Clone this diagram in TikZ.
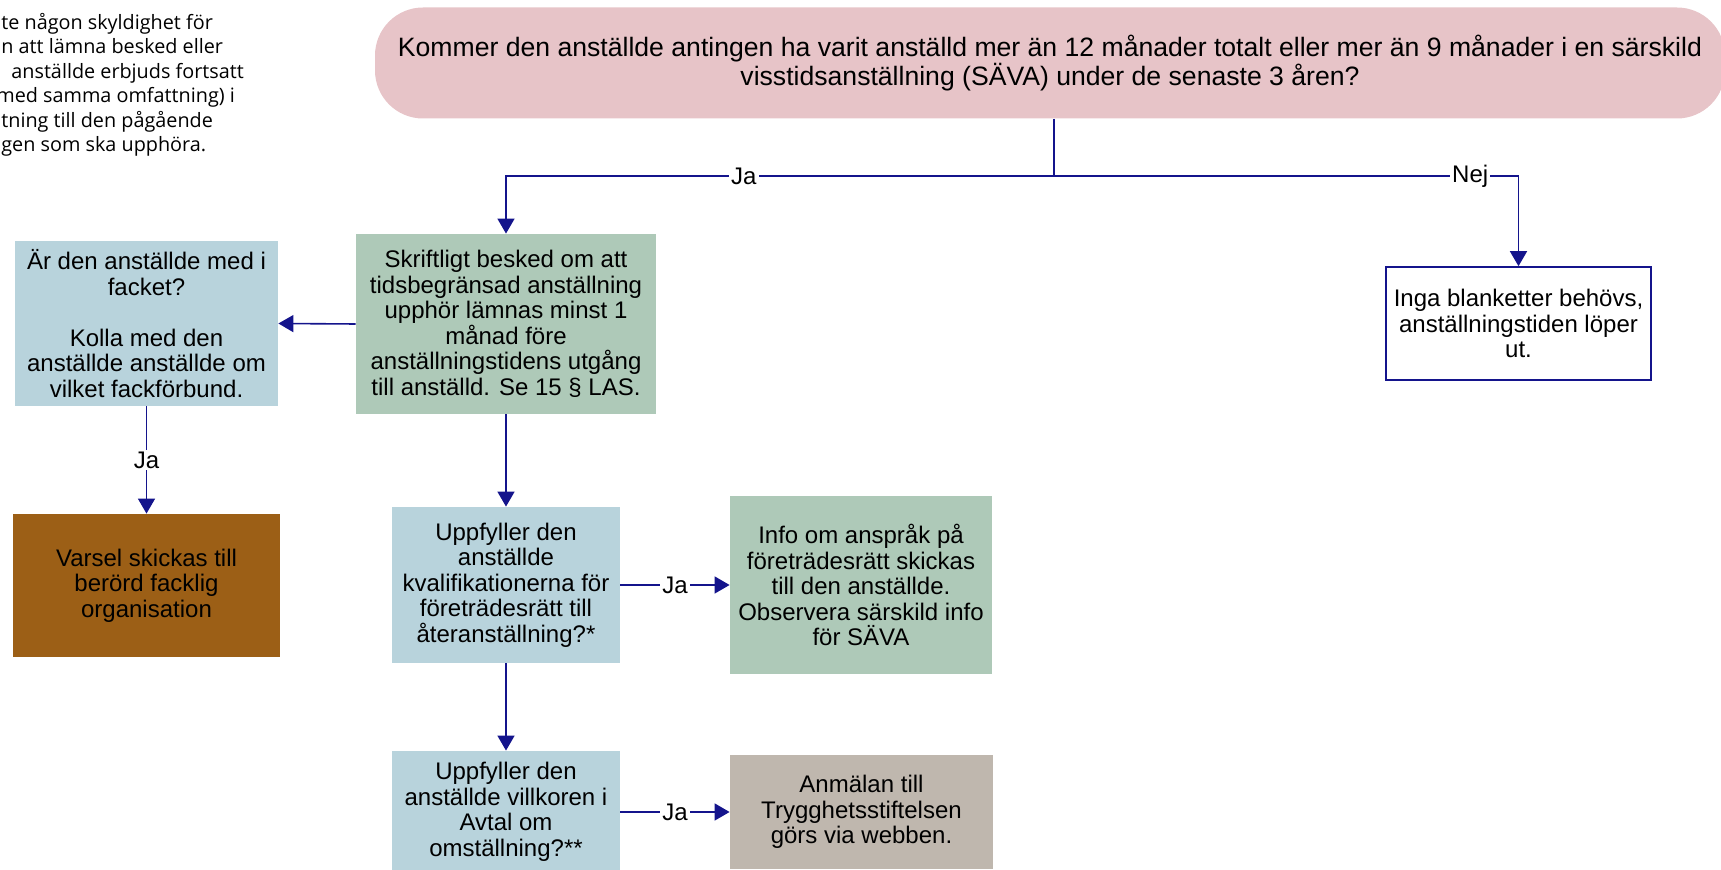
\documentclass[tikz,border=0pt]{standalone}
\usepackage{fontspec}
\setmainfont{Liberation Sans}
\newfontfamily\notefont{Open Sans}
\usetikzlibrary{arrows.meta}

\definecolor{navyline}{RGB}{20,20,140}
\definecolor{pinkq}{RGB}{231,196,200}
\definecolor{blueq}{RGB}{184,211,220}
\definecolor{greenq}{RGB}{174,201,184}
\definecolor{brownq}{RGB}{156,95,22}
\definecolor{tanq}{RGB}{191,183,174}

\tikzset{
  box/.style={rectangle, align=center, inner sep=2pt, font=\fontsize{12}{12.75}\selectfont},
  link/.style={draw=navyline, line width=0.8pt, -{Triangle[length=7.5pt,width=8.5pt]}},
  lbl/.style={fill=white, inner sep=1pt, font=\fontsize{12}{12.75}\selectfont},
}

\begin{document}
\begin{tikzpicture}[x=0.5pt,y=-0.5pt]
    \useasboundingbox (0,0) rectangle (1721,870);

    % note at top left
    \node[anchor=north west, align=left, inner sep=0pt,
          font=\notefont\fontsize{9.9}{12.2}\selectfont] (note) at (1,13)
      {te någon skyldighet för\\%
n att lämna besked eller\\%
\hspace*{5pt}anställde erbjuds fortsatt\\%
\hspace*{-2.5pt}med samma omfattning) i\\%
tning till den pågående\\%
gen som ska upphöra.};

    % question at the top
    \node[box, fill=pinkq, rounded corners=24pt, minimum width=675pt, minimum height=55.5pt,
          font=\fontsize{13.3}{14.25}\selectfont] (q1) at (1050,63)
      {Kommer den anställde antingen ha varit anställd mer än 12 månader totalt eller mer än 9 månader i en särskild\\
       visstidsanställning (SÄVA) under de senaste 3 åren?};

    \node[box, fill=greenq, minimum width=150pt, minimum height=90pt] (skr) at (506,324)
      {Skriftligt besked om att\\ tidsbegränsad anställning\\ upphör lämnas minst 1\\ månad före\\ anställningstidens utgång\\ till anställd. Se 15 § LAS.};
    \node[box, fill=blueq, minimum width=131.5pt, minimum height=82.5pt] (fack) at (146.5,323.5)
      {Är den anställde med i\\ facket?\\[12.75pt] Kolla med den\\ anställde anställde om\\ vilket fackförbund.};
    \node[box, fill=brownq, minimum width=133.5pt, minimum height=71.5pt] (varsel) at (146.5,585.5)
      {Varsel skickas till\\ berörd facklig\\ organisation};
    \node[box, draw=navyline, line width=0.8pt, fill=white, minimum width=132.5pt, minimum height=56.5pt] (inga) at (1518.5,323.5)
      {Inga blanketter behövs,\\ anställningstiden löper\\ ut.};

    \node[box, fill=blueq, minimum width=114pt, minimum height=78pt] (kval) at (506,585)
      {Uppfyller den\\ anställde\\ kvalifikationerna för\\ företrädesrätt till\\ återanställning?*};
    \node[box, fill=greenq, minimum width=131pt, minimum height=89pt] (info) at (861,585)
      {Info om anspråk på\\ företrädesrätt skickas\\ till den anställde.\\ Observera särskild info\\ för SÄVA};

    \node[box, fill=blueq, minimum width=114pt, minimum height=61pt] (avtal) at (506,812)
      {Uppfyller den\\ anställde villkoren i\\ Avtal om\\ omställning?**};
    \node[box, fill=tanq, minimum width=131.5pt, minimum height=57pt] (anm) at (861.5,812)
      {Anmälan till\\ Trygghetsstiftelsen\\ görs via webben.};

    % connectors
    \coordinate (split) at (1054,176);
    \draw[navyline, line width=0.8pt] (split |- q1.south) -- (split);
    \draw[link] (split) -| node[lbl, pos=0.283] {Ja} (skr.north);
    \draw[link] (split) -| node[lbl, pos=0.448] {Nej} (inga.north);
    \draw[link] (skr.west) -- (fack.east);
    \draw[link] (fack.south) -- node[lbl] {Ja} (varsel.north);
    \draw[link] (skr.south) -- (kval.north);
    \draw[link] (kval.east) -- node[lbl] {Ja} (info.west);
    \draw[link] (kval.south) -- (avtal.north);
    \draw[link] (avtal.east) -- node[lbl] {Ja} (anm.west);
\end{tikzpicture}
\end{document}
